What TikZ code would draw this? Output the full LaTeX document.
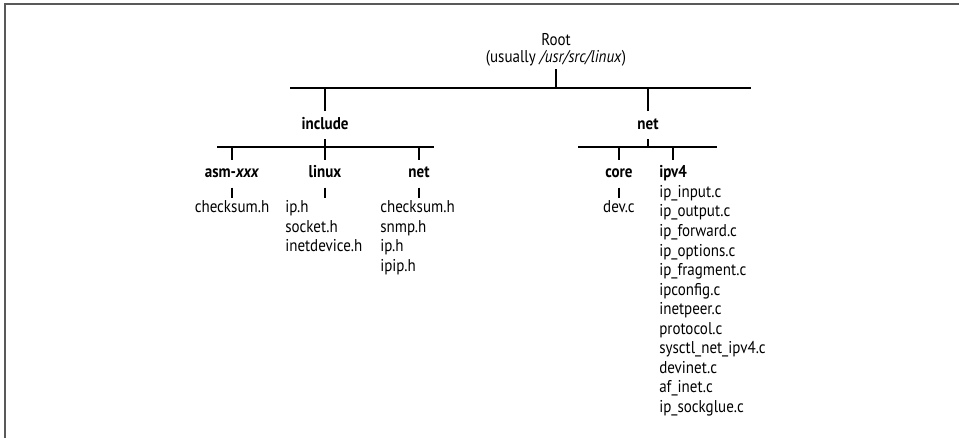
\documentclass[tikz,border=0pt]{standalone}
\usepackage{fontspec}
\setmainfont[FakeStretch=0.88]{PT Sans}
\usetikzlibrary{positioning}

\begin{document}
\fontsize{12.8pt}{14.6pt}\selectfont
\begin{tikzpicture}[x=0.75pt,y=-0.75pt,
  dir/.style={inner sep=0pt,font=\bfseries,text height=13.5pt,text depth=7.1pt},
  file/.style={inner sep=0pt,anchor=base west,text height=11.25pt,text depth=3.4pt},
  bar/.style={line width=2pt}]
  \useasboundingbox (0,0) rectangle (959,438);
  \draw[black!65,line width=1pt] (5,438) -- (5,4) -- (959,4);

  \node[anchor=south,align=center,inner sep=2pt] (root) at (556,69) {Root\\[-1.85pt](usually \textit{/usr/src/linux})};
  \coordinate (topL) at (290,88); \coordinate (topR) at (751,88);
  \coordinate (incL) at (217,147); \coordinate (incR) at (434,147);
  \coordinate (netL) at (578,147); \coordinate (netR) at (717,147);

  \node[dir,anchor=base] (inc) at (325,129.5) {include};
  \node[dir,anchor=base] (net) at (648,129.5) {net};
  \node[dir,anchor=base] (asm) at (232,178) {asm-\textit{xxx}};
  \node[dir,anchor=base] (lnx) at (325,178) {linux};
  \node[dir,anchor=base] (inet) at (419,178) {net};
  \node[dir,anchor=base] (core) at (619,178) {core};
  \node[dir,anchor=base west] (ipv4) at (659,178) {ipv4};

  \node[file,anchor=base] (asm1) at (232,213) {checksum.h};
  \node[file,anchor=base] (core1) at (619,213) {dev.c};
  \foreach \f [count=\i] in {ip.h,socket.h,inetdevice.h}
    \node[file] (lnx\i) at (285,193.5+19.5*\i) {\f};
  \foreach \f [count=\i] in {checksum.h,snmp.h,ip.h,ipip.h}
    \node[file] (inet\i) at (380,193.5+19.5*\i) {\f};
  \foreach \f [count=\i] in {ip\_input.c,ip\_output.c,ip\_forward.c,ip\_options.c,
    ip\_fragment.c,ipconfig.c,inetpeer.c,protocol.c,sysctl\_net\_ipv4.c,
    devinet.c,af\_inet.c,ip\_sockglue.c}
    \node[file] (ipv4\i) at (659,178+19.5*\i) {\f};

  \draw[bar] (topL) -- (topR);
  \draw[bar] (incL) -- (incR);
  \draw[bar] (netL) -- (netR);
  \draw[bar] (root.south) -- (root.south |- topL);
  \foreach \n in {inc,net}
    \draw[bar] (\n.north) -- (\n.north |- topL);
  \draw[bar] (inc.south) -- (inc.south |- incL);
  \draw[bar] (net.south) -- (net.south |- netL);
  \foreach \n in {asm,lnx,inet}
    \draw[bar] (\n.north) -- (\n.north |- incL);
  \foreach \n in {core,ipv4}
    \draw[bar] (\n.north) -- (\n.north |- netL);
  \foreach \n in {asm,lnx,inet,core}
    \draw[bar] (\n.south) -- (\n.south |- \n1.north);
\end{tikzpicture}
\end{document}
